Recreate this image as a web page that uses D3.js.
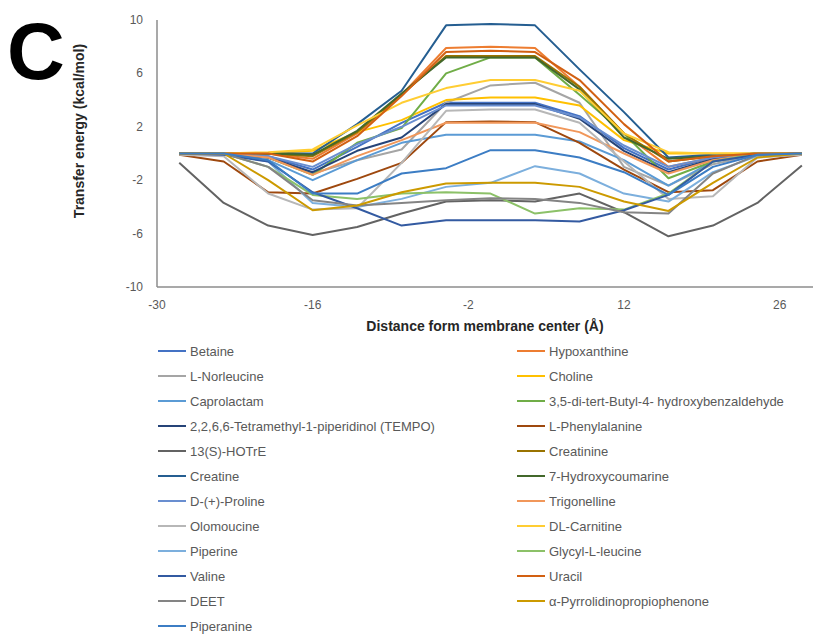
<!DOCTYPE html>
<html>
<head>
<meta charset="utf-8">
<script src="https://cdn.jsdelivr.net/npm/d3@7"></script>
<style>
  body { margin: 0; background: #fff; }
  svg { font-family: "Liberation Sans", Arial, sans-serif; }
  .tick-label { font-size: 12px; fill: #595959; }
  .legend-text { font-size: 13px; fill: #595959; }
</style>
</head>
<body>
<div id="chart"></div>
<script>
// distance from membrane center (Å)
var xs = [-28, -24, -20, -16, -12, -8, -4, 0, 4, 8, 12, 16, 20, 24, 28];
var xTicks = [-30, -16, -2, 12, 26];
var yTicks = [-10, -6, -2, 2, 6, 10];

// legend order (Excel series order)
var names = [
  'Betaine', 'Hypoxanthine', 'L-Norleucine', 'Choline', 'Caprolactam',
  '3,5-di-tert-Butyl-4- hydroxybenzaldehyde', '2,2,6,6-Tetramethyl-1-piperidinol (TEMPO)',
  'L-Phenylalanine', '13(S)-HOTrE', 'Creatinine', 'Creatine', '7-Hydroxycoumarine',
  'D-(+)-Proline', 'Trigonelline', 'Olomoucine', 'DL-Carnitine', 'Piperine',
  'Glycyl-L-leucine', 'Valine', 'Uracil', 'DEET', '\u03b1-Pyrrolidinopropiophenone', 'Piperanine'
];
var colors = [
  '#4472C4', '#ED7D31', '#A5A5A5', '#FFC000', '#5B9BD5', '#70AD47',
  '#264478', '#9E480E', '#636363', '#997300', '#255E91', '#43682B',
  '#698ED0', '#F1975A', '#B7B7B7', '#FFCD33', '#7CAFDD', '#8CC168',
  '#335AA1', '#D26012', '#848484', '#CC9A00', '#3C7DC4'
];

// transfer energy (kcal/mol), one array per compound
var betaine      = [0, 0, -0.2, -1.2, 0.5, 2.3, 3.8, 3.8, 3.8, 2.8, 0.4, -1.2, -0.3, 0, 0];
var hypoxanthine = [0, 0, 0, -0.4, 1.5, 4.4, 7.9, 8.0, 7.9, 5.0, 1.5, -1.0, -0.3, 0, 0];
var norleucine   = [-0.1, -0.1, -0.3, -1.5, -0.5, 0.3, 3.8, 5.1, 5.3, 3.8, -1.0, -2.4, -0.8, -0.1, -0.1];
var choline      = [0, 0, 0, 0.2, 1.6, 2.5, 4.0, 4.2, 4.2, 3.6, 1.0, 0.0, 0, 0, 0];
var caprolactam  = [0, 0, -0.5, -2.0, -0.5, 0.8, 1.4, 1.4, 1.4, 0.9, -0.5, -2.4, -0.6, -0.1, 0];
var dtbhb        = [0, 0, -0.3, -1.6, 0.8, 1.9, 6.0, 7.2, 7.2, 4.4, 1.5, -1.85, -0.6, 0, 0];
var tempo        = [0, 0, -0.3, -1.4, 0.2, 1.2, 3.7, 3.7, 3.7, 2.6, 0.2, -1.4, -0.4, 0, 0];
var phenylalanine = [-0.1, -0.6, -2.9, -3.0, -1.9, -0.7, 2.35, 2.4, 2.35, 0.8, -1.2, -2.9, -2.75, -0.6, -0.1];
var hotre        = [-0.7, -3.7, -5.4, -6.1, -5.5, -4.5, -3.6, -3.5, -3.6, -3.0, -4.4, -6.2, -5.4, -3.7, -0.9];
var creatinine   = [0, 0, 0, -0.2, 1.6, 4.4, 7.3, 7.3, 7.3, 5.0, 1.5, -0.6, -0.2, 0, 0];
var creatine     = [0, 0, 0, 0, 2.2, 4.7, 9.6, 9.7, 9.6, 6.3, 3.1, -0.3, -0.1, 0, 0];
var hydroxycoum  = [0, 0, 0, -0.1, 1.7, 4.5, 7.2, 7.2, 7.2, 4.8, 1.2, -0.4, -0.2, 0, 0];
var proline      = [0, 0, -0.2, -1.0, 0.7, 2.0, 3.6, 3.6, 3.6, 2.7, 0.6, -1.0, -0.3, 0, 0];
var trigonelline = [0, 0, -0.3, -1.6, -0.2, 1.0, 2.3, 2.3, 2.3, 1.6, 0.0, -1.5, -0.5, 0, 0];
var olomoucine   = [-0.1, -0.2, -3.0, -4.2, -4.1, -0.7, 3.2, 3.3, 3.3, 2.3, -0.6, -3.4, -3.2, -0.3, -0.1];
var carnitine    = [0, 0, 0.1, 0.3, 2.1, 3.8, 4.9, 5.5, 5.5, 4.7, 1.5, 0.1, 0, 0, 0];
var piperine     = [0, 0, -0.6, -3.7, -4.0, -3.4, -2.5, -2.2, -0.95, -1.5, -3.0, -3.6, -1.4, -0.2, 0];
var glycylleucine = [0, 0, -1.0, -3.1, -3.4, -3.0, -2.9, -3.0, -4.5, -4.1, -4.2, -3.0, -0.6, 0, 0];
var valine       = [0, -0.1, -0.6, -2.9, -4.1, -5.4, -5.0, -5.0, -5.0, -5.1, -4.25, -3.1, -0.6, -0.1, 0];
var uracil       = [0, 0, 0, -0.6, 1.3, 4.3, 7.6, 7.7, 7.6, 5.5, 2.2, -0.6, -0.2, 0, 0];
var deet         = [0, 0, -1.0, -3.5, -3.9, -3.7, -3.5, -3.35, -3.4, -3.7, -4.4, -4.5, -1.5, -0.1, 0];
var pyrrolidino  = [0, 0, -2.0, -4.25, -3.9, -2.9, -2.25, -2.2, -2.2, -2.5, -3.6, -4.3, -2.2, -0.3, 0];
var piperanine   = [0, 0, -0.5, -3.0, -3.0, -1.5, -1.1, 0.25, 0.25, -0.3, -1.4, -3.1, -1.0, -0.1, 0];

var series = [betaine, hypoxanthine, norleucine, choline, caprolactam, dtbhb, tempo,
  phenylalanine, hotre, creatinine, creatine, hydroxycoum, proline, trigonelline,
  olomoucine, carnitine, piperine, glycylleucine, valine, uracil, deet, pyrrolidino, piperanine];

var svg = d3.select('#chart').append('svg')
  .attr('width', 816)
  .attr('height', 634);

var x = d3.scaleLinear().domain([-30, 29]).range([157, 813]);
var y = d3.scaleLinear().domain([-10, 10]).range([287, 20]);

// panel letter
svg.append('text')
  .attr('x', 7).attr('y', 79)
  .style('font-size', '80px')
  .style('font-weight', 'bold')
  .style('fill', '#000')
  .text('C');

// axes lines
svg.append('line')
  .attr('x1', x(-30)).attr('x2', x(-30))
  .attr('y1', y(10)).attr('y2', y(-10))
  .attr('stroke', '#8c8c8c').attr('stroke-width', 1.5);
svg.append('line')
  .attr('x1', x(-30)).attr('x2', x(29))
  .attr('y1', y(-10)).attr('y2', y(-10))
  .attr('stroke', '#8c8c8c').attr('stroke-width', 1.5);

// tick labels
svg.selectAll('.ylab').data(yTicks).enter().append('text')
  .attr('class', 'tick-label')
  .attr('x', 143)
  .attr('y', function(d) { return y(d) + 4; })
  .style('text-anchor', 'end')
  .text(function(d) { return d; });

svg.selectAll('.xlab').data(xTicks).enter().append('text')
  .attr('class', 'tick-label')
  .attr('x', function(d) { return x(d); })
  .attr('y', 309)
  .style('text-anchor', 'middle')
  .text(function(d) { return d; });

// axis titles
svg.append('text')
  .attr('x', 485).attr('y', 331)
  .style('text-anchor', 'middle')
  .style('font-size', '14px')
  .style('font-weight', 'bold')
  .style('fill', '#262626')
  .text('Distance form membrane center (\u00c5)');

svg.append('text')
  .attr('transform', 'translate(84,131) rotate(-90)')
  .style('text-anchor', 'middle')
  .style('font-size', '14px')
  .style('font-weight', 'bold')
  .style('fill', '#262626')
  .text('Transfer energy (kcal/mol)');

// lines
var line = d3.line()
  .x(function(d, i) { return x(xs[i]); })
  .y(function(d) { return y(d); });

svg.selectAll('.series').data(series).enter().append('path')
  .attr('class', 'series')
  .attr('d', line)
  .attr('fill', 'none')
  .attr('stroke', function(d, i) { return colors[i]; })
  .attr('stroke-width', 2)
  .attr('stroke-linejoin', 'round');

// legend, two columns, row-wise
var legend = svg.selectAll('.legend').data(names).enter().append('g')
  .attr('class', 'legend')
  .attr('transform', function(d, i) {
    var col = i % 2, row = Math.floor(i / 2);
    return 'translate(' + (col ? 517 : 158) + ',' + (351 + row * 25) + ')';
  });

legend.append('line')
  .attr('x1', 0).attr('x2', 28)
  .attr('stroke', function(d, i) { return colors[i]; })
  .attr('stroke-width', 2);

legend.append('text')
  .attr('class', 'legend-text')
  .attr('x', 32).attr('y', 4.5)
  .text(function(d) { return d; });
</script>
</body>
</html>
